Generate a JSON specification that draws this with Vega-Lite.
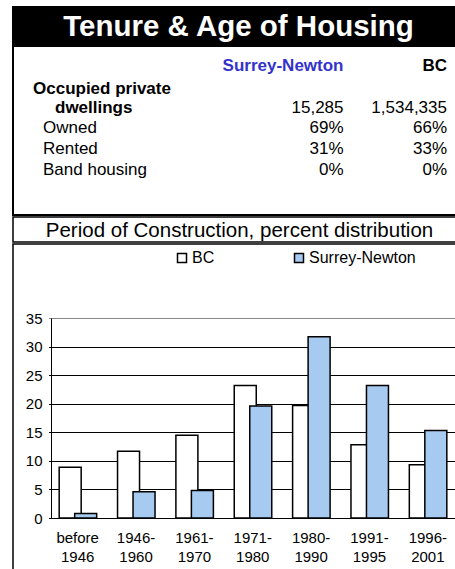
{
  "$schema": "https://vega.github.io/schema/vega-lite/v6.json",
  "padding": {"left": 12, "top": 6, "right": 0, "bottom": 0},
  "spacing": 0,
  "config": {"font": "Liberation Sans", "concat": {"spacing": 0}},
  "datasets": {
    "cells": [
      {"row": "head", "col": "Surrey-Newton", "text": "Surrey-Newton"},
      {"row": "head", "col": "BC", "text": "BC"},
      {"row": "occ", "col": "label", "text": "Occupied private"},
      {"row": "dw", "col": "label", "text": "dwellings"},
      {"row": "dw", "col": "Surrey-Newton", "text": "15,285"},
      {"row": "dw", "col": "BC", "text": "1,534,335"},
      {"row": "own", "col": "label", "text": "Owned"},
      {"row": "own", "col": "Surrey-Newton", "text": "69%"},
      {"row": "own", "col": "BC", "text": "66%"},
      {"row": "rent", "col": "label", "text": "Rented"},
      {"row": "rent", "col": "Surrey-Newton", "text": "31%"},
      {"row": "rent", "col": "BC", "text": "33%"},
      {"row": "band", "col": "label", "text": "Band housing"},
      {"row": "band", "col": "Surrey-Newton", "text": "0%"},
      {"row": "band", "col": "BC", "text": "0%"}
    ],
    "bars": [
      {"period": "before 1946", "series": "BC", "value": 8.9},
      {"period": "before 1946", "series": "Surrey-Newton", "value": 0.8},
      {"period": "1946-1960", "series": "BC", "value": 11.7},
      {"period": "1946-1960", "series": "Surrey-Newton", "value": 4.6},
      {"period": "1961-1970", "series": "BC", "value": 14.5},
      {"period": "1961-1970", "series": "Surrey-Newton", "value": 4.8},
      {"period": "1971-1980", "series": "BC", "value": 23.2},
      {"period": "1971-1980", "series": "Surrey-Newton", "value": 19.6},
      {"period": "1980-1990", "series": "BC", "value": 19.7},
      {"period": "1980-1990", "series": "Surrey-Newton", "value": 31.7},
      {"period": "1991-1995", "series": "BC", "value": 12.8},
      {"period": "1991-1995", "series": "Surrey-Newton", "value": 23.2},
      {"period": "1996-2001", "series": "BC", "value": 9.3},
      {"period": "1996-2001", "series": "Surrey-Newton", "value": 15.3}
    ]
  },
  "vconcat": [
    {
      "width": 443,
      "height": 37,
      "view": {"fill": "black", "stroke": "black", "strokeWidth": 2},
      "data": {"values": [{"t": "Tenure & Age of Housing"}]},
      "mark": {"type": "text", "color": "white", "fontSize": 29.5, "fontWeight": "bold", "align": "center", "baseline": "middle", "dx": 4, "dy": 1},
      "encoding": {"text": {"field": "t"}}
    },
    {
      "width": 443,
      "height": 169,
      "view": {"stroke": "black", "strokeWidth": 2},
      "data": {"name": "cells"},
      "encoding": {
        "x": {"field": "col", "type": "nominal", "axis": null,
              "scale": {"type": "point", "domain": ["label", "_1", "_2", "Surrey-Newton", "BC"], "range": [20, 434], "padding": 0}},
        "y": {"field": "row", "type": "nominal", "axis": null,
              "scale": {"type": "point", "domain": ["head", "occ", "dw", "own", "rent", "band"], "range": [20, 124], "padding": 0}},
        "text": {"field": "text"}
      },
      "layer": [
        {
          "transform": [{"filter": "datum.row == 'head'"}],
          "mark": {"type": "text", "align": "right", "baseline": "middle", "fontSize": 17, "fontWeight": "bold"},
          "encoding": {"color": {"condition": {"test": "datum.col == 'Surrey-Newton'", "value": "#3333cc"}, "value": "black"}}
        },
        {
          "transform": [{"filter": "datum.col == 'label' && datum.row == 'occ'"}],
          "mark": {"type": "text", "align": "left", "baseline": "middle", "fontSize": 17, "fontWeight": "bold", "color": "black", "dy": 2}
        },
        {
          "transform": [{"filter": "datum.col == 'label' && datum.row == 'dw'"}],
          "mark": {"type": "text", "align": "left", "baseline": "middle", "fontSize": 17, "fontWeight": "bold", "color": "black", "dx": 22}
        },
        {
          "transform": [{"filter": "datum.col == 'label' && datum.row != 'occ' && datum.row != 'dw'"}],
          "mark": {"type": "text", "align": "left", "baseline": "middle", "fontSize": 17, "color": "black", "dx": 10}
        },
        {
          "transform": [{"filter": "datum.col != 'label' && datum.row != 'head'"}],
          "mark": {"type": "text", "align": "right", "baseline": "middle", "fontSize": 17, "color": "black"}
        }
      ]
    },
    {
      "width": 443,
      "height": 25,
      "view": {"stroke": "black", "strokeWidth": 1.5},
      "data": {"values": [{"t": "Period of Construction, percent distribution"}]},
      "mark": {"type": "text", "color": "black", "fontSize": 20.5, "align": "center", "baseline": "middle", "dx": 5, "dy": 1},
      "encoding": {"text": {"field": "t"}}
    },
    {
      "width": 443,
      "height": 333,
      "view": {"stroke": "black", "strokeWidth": 1.5},
      "data": {"name": "bars"},
      "encoding": {
        "x": {"field": "period", "type": "nominal",
              "scale": {"type": "band", "domain": ["before 1946", "1946-1960", "1961-1970", "1971-1980", "1980-1990", "1991-1995", "1996-2001"], "range": [35.5, 444], "paddingInner": 0, "paddingOuter": 0},
              "axis": {"orient": "bottom", "offset": -59, "title": null, "labelAngle": 0, "ticks": false, "tickSize": 0, "domain": true, "domainColor": "black", "domainWidth": 1, "grid": false,
                       "labelFontSize": 15, "labelColor": "black", "labelPadding": 12, "labelLineHeight": 19,
                       "labelExpr": "indexof(datum.label, 'before') == 0 ? ['before', '1946'] : [slice(datum.label, 0, 5), slice(datum.label, 5)]"}},
        "y": {"field": "value", "type": "quantitative",
              "scale": {"domain": [0, 35], "range": [274, 74], "nice": false, "zero": true},
              "axis": {"orient": "left", "offset": -38, "title": null, "values": [0, 5, 10, 15, 20, 25, 30, 35], "ticks": false, "tickSize": 0, "domain": true, "domainColor": "black", "domainWidth": 1,
                       "labelFontSize": 15, "labelColor": "black", "labelPadding": 9,
                       "grid": true, "gridColor": {"condition": {"test": "datum.value == 35", "value": "#888888"}, "value": "black"}, "gridWidth": 1, "gridOpacity": 1}},
        "color": {"field": "series", "type": "nominal",
                  "scale": {"domain": ["BC", "Surrey-Newton"], "range": ["white", "#a6caf0"]},
                  "legend": {"orient": "none", "legendX": 161, "legendY": 243, "direction": "horizontal", "title": null,
                             "symbolType": "square", "symbolSize": 81, "symbolStrokeColor": "black", "symbolStrokeWidth": 1.5,
                             "labelFontSize": 16, "labelColor": "black", "labelOffset": 2, "columnPadding": 76}}
      },
      "layer": [
        {
          "transform": [{"filter": "datum.series == 'BC'"}],
          "mark": {"type": "bar", "width": 22, "xOffset": -7.5, "stroke": "black", "strokeWidth": 1.5}
        },
        {
          "transform": [{"filter": "datum.series == 'Surrey-Newton'"}],
          "mark": {"type": "bar", "width": 22, "xOffset": 8, "stroke": "black", "strokeWidth": 1.5}
        }
      ]
    }
  ]
}
